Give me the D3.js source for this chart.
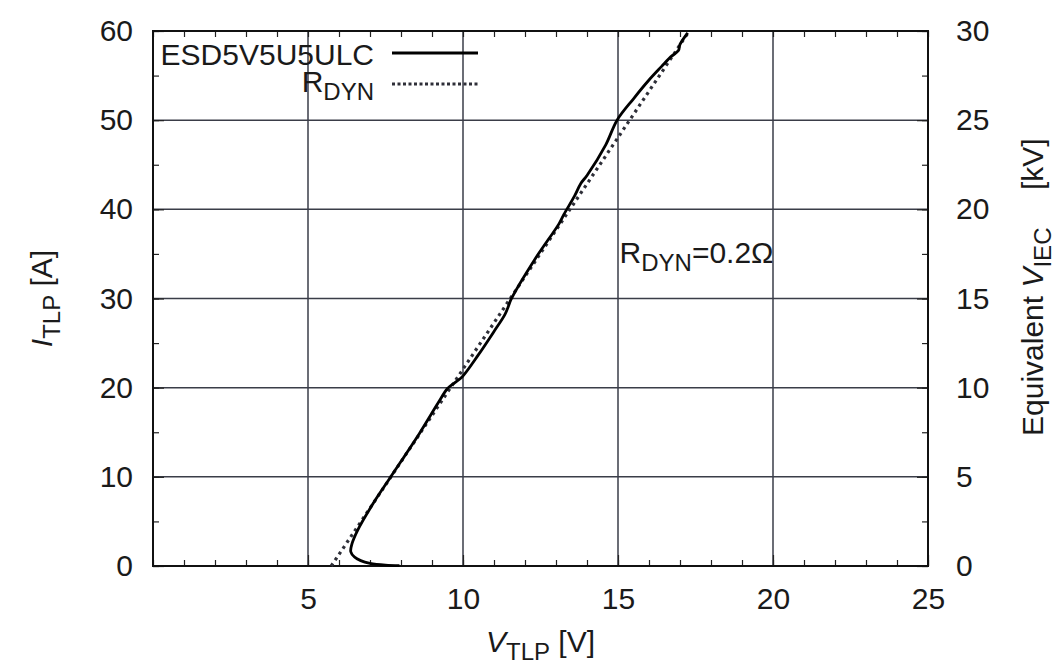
<!DOCTYPE html>
<html>
<head>
<meta charset="utf-8">
<script src="https://cdn.jsdelivr.net/npm/d3@7"></script>
<style>
  body { margin: 0; background: #fff; }
  svg text { font-family: "Liberation Sans", Arial, sans-serif; fill: #1a1a1a; }
</style>
</head>
<body>
<div id="chart"></div>
<script>
// Measured TLP curve (V, A)
const deviceName = "ESD5V5U5ULC";
const tlpV = [7.95, 7.5, 7.0, 6.7, 6.5, 6.38, 6.42, 6.6, 7.1, 7.65, 8.6, 9.2, 9.5, 9.75, 9.97, 10.5, 11.0, 11.35, 11.45, 11.55, 12.3, 13.1, 13.25, 13.6, 13.8, 14.0, 14.6, 14.97, 15.5, 16.0, 16.4, 16.7, 16.95, 17.0, 17.25];
const tlpI = [0.05, 0.1, 0.3, 0.6, 1.0, 1.6, 2.5, 4.0, 7.0, 9.9, 14.9, 18.3, 19.9, 20.6, 21.2, 23.7, 26.3, 28.2, 29.0, 29.9, 34.3, 38.4, 39.4, 41.5, 42.9, 43.8, 47.2, 50.0, 52.4, 54.5, 56.0, 57.1, 57.8, 58.5, 59.8];
// Dynamic resistance fit line
const rdynV = [5.75, 17.3];
const rdynI = [0, 60];
// Ticks
const xTicks = [5, 10, 15, 20, 25];
const yTicks = [0, 10, 20, 30, 40, 50, 60];
const y2Ticks = [0, 5, 10, 15, 20, 25, 30];

const width = 1057, height = 667;
const margin = { top: 31, right: 129, bottom: 101, left: 153 };
const fs = 30;

const svg = d3.select("#chart").append("svg")
  .attr("width", width)
  .attr("height", height);

const x = d3.scaleLinear().domain([0, 25]).range([margin.left, width - margin.right]);
const y = d3.scaleLinear().domain([0, 60]).range([height - margin.bottom, margin.top]);
const y2 = d3.scaleLinear().domain([0, 30]).range([height - margin.bottom, margin.top]);

const pw = x(25) - x(0), ph = y(0) - y(60);

// Grid
svg.append("g")
  .selectAll("line.gx")
  .data([5, 10, 15, 20])
  .enter().append("line")
  .attr("x1", d => x(d)).attr("x2", d => x(d))
  .attr("y1", y(0)).attr("y2", y(60))
  .attr("stroke", "#3a3d48").attr("stroke-width", 1.5);
svg.append("g")
  .selectAll("line.gy")
  .data([10, 20, 30, 40, 50])
  .enter().append("line")
  .attr("x1", x(0)).attr("x2", x(25))
  .attr("y1", d => y(d)).attr("y2", d => y(d))
  .attr("stroke", "#3a3d48").attr("stroke-width", 1.5);

// Minor + major inward ticks on all four sides
const minorX = d3.range(0, 26, 1);
const minorY = d3.range(0, 61, 5);
function styleAxis(g) {
  g.select(".domain").remove();
  g.selectAll(".tick line").attr("stroke", "#222").attr("stroke-width", 1.2);
}
svg.append("g").attr("transform", `translate(0,${y(0)})`)
  .call(d3.axisBottom(x).tickValues(minorX).tickSize(-6).tickFormat(""))
  .call(styleAxis);
svg.append("g").attr("transform", `translate(0,${y(60)})`)
  .call(d3.axisTop(x).tickValues(minorX).tickSize(-6).tickFormat(""))
  .call(styleAxis);
svg.append("g").attr("transform", `translate(${x(0)},0)`)
  .call(d3.axisLeft(y).tickValues(minorY).tickSize(-6).tickFormat(""))
  .call(styleAxis);
svg.append("g").attr("transform", `translate(${x(25)},0)`)
  .call(d3.axisRight(y).tickValues(minorY).tickSize(-6).tickFormat(""))
  .call(styleAxis);

// Labelled axes
const xAxis = svg.append("g").attr("transform", `translate(0,${y(0)})`)
  .call(d3.axisBottom(x).tickValues(xTicks).tickSize(-11).tickPadding(22))
  .call(styleAxis);
const yAxis = svg.append("g").attr("transform", `translate(${x(0)},0)`)
  .call(d3.axisLeft(y).tickValues(yTicks).tickSize(-11).tickPadding(20))
  .call(styleAxis);
const y2Axis = svg.append("g").attr("transform", `translate(${x(25)},0)`)
  .call(d3.axisRight(y2).tickValues(y2Ticks).tickSize(-11).tickPadding(28))
  .call(styleAxis);
[xAxis, yAxis, y2Axis].forEach(a => a.selectAll("text")
  .style("font-size", fs + "px").style("font-family", "Liberation Sans, Arial, sans-serif").attr("fill", "#1a1a1a"));

// Frame
svg.append("rect")
  .attr("x", x(0)).attr("y", y(60))
  .attr("width", pw).attr("height", ph)
  .attr("fill", "none").attr("stroke", "#111").attr("stroke-width", 2);

// Curves
const tlpData = tlpV.map((v, i) => ({ v, i: tlpI[i] }));
const rdynData = rdynV.map((v, i) => ({ v, i: rdynI[i] }));
const lineStraight = d3.line().x(d => x(d.v)).y(d => y(d.i));

svg.append("path")
  .datum(rdynData)
  .attr("fill", "none")
  .attr("stroke", "#2e2f38")
  .attr("stroke-width", 3.2)
  .attr("stroke-dasharray", "3,4")
  .attr("d", lineStraight);

svg.append("path")
  .datum(tlpData)
  .attr("fill", "none")
  .attr("stroke", "#000")
  .attr("stroke-width", 2.8)
  .attr("stroke-linejoin", "round")
  .attr("d", d3.line().x(d => x(d.v)).y(d => y(d.i)).curve(d3.curveCatmullRom.alpha(0.5)));

// Legend
const lg = svg.append("g");
lg.append("text")
  .attr("x", 374).attr("y", 65)
  .attr("text-anchor", "end")
  .style("font-size", fs + "px")
  .text(deviceName);
lg.append("line")
  .attr("x1", 392).attr("x2", 478).attr("y1", 53).attr("y2", 53)
  .attr("stroke", "#000").attr("stroke-width", 3);
const rl = lg.append("text")
  .attr("x", 374).attr("y", 92)
  .attr("text-anchor", "end")
  .style("font-size", fs + "px");
rl.append("tspan").text("R");
rl.append("tspan").attr("dy", 8).style("font-size", (fs * 0.8) + "px").text("DYN");
lg.append("line")
  .attr("x1", 392).attr("x2", 478).attr("y1", 84).attr("y2", 84)
  .attr("stroke", "#2e2f38").attr("stroke-width", 3.2).attr("stroke-dasharray", "3,2.5");

// Annotation
const ann = svg.append("text")
  .attr("x", x(15.05)).attr("y", 263)
  .style("font-size", fs + "px");
ann.append("tspan").text("R");
ann.append("tspan").attr("dy", 8).style("font-size", (fs * 0.8) + "px").text("DYN");
ann.append("tspan").attr("dy", -8).text("=0.2Ω");

// Axis titles
const xt = svg.append("text")
  .attr("x", x(12.5)).attr("y", 652)
  .attr("text-anchor", "middle")
  .style("font-size", fs + "px");
xt.append("tspan").style("font-style", "italic").text("V");
xt.append("tspan").attr("dy", 8).style("font-size", (fs * 0.8) + "px").text("TLP");
xt.append("tspan").attr("dy", -8).text(" [V]");

const yt = svg.append("text")
  .attr("transform", `translate(52,${y(30)}) rotate(-90)`)
  .attr("text-anchor", "middle")
  .style("font-size", fs + "px");
yt.append("tspan").style("font-style", "italic").text("I");
yt.append("tspan").attr("dy", 8).style("font-size", (fs * 0.8) + "px").text("TLP");
yt.append("tspan").attr("dy", -8).text(" [A]");

const y2t = svg.append("text")
  .attr("transform", `translate(1043,436) rotate(-90)`)
  .attr("text-anchor", "start")
  .style("font-size", fs + "px");
y2t.append("tspan").text("Equivalent ");
y2t.append("tspan").style("font-style", "italic").text("V");
y2t.append("tspan").attr("dy", 8).style("font-size", (fs * 0.8) + "px").text("IEC");
svg.append("text")
  .attr("transform", `translate(1043,190) rotate(-90)`)
  .attr("text-anchor", "start")
  .style("font-size", fs + "px")
  .text("[kV]");
</script>
</body>
</html>
